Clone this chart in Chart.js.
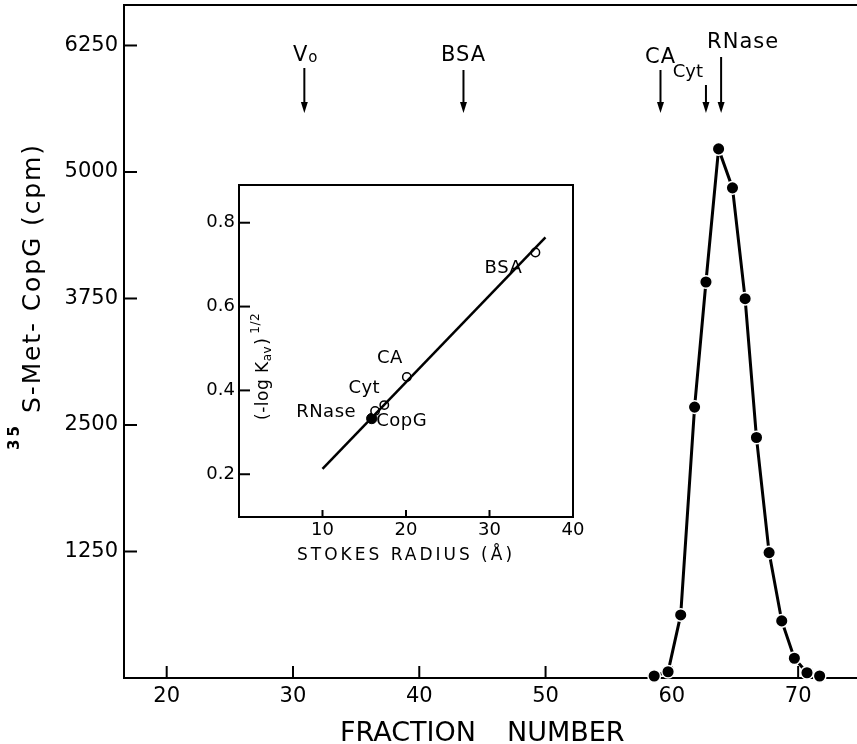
<!DOCTYPE html>
<html>
<head>
<meta charset="utf-8">
<script src="https://cdn.jsdelivr.net/npm/chart.js@4"></script>
<style>
  html, body { margin:0; padding:0; background:#fff; }
  #wrap { position:relative; width:857px; height:744px; }
  #main { position:absolute; left:0; top:0; }
  #inset { position:absolute; left:180px; top:175px; }
</style>
</head>
<body>
<div id="wrap">
  <canvas id="main" width="857" height="744"></canvas>
  <canvas id="inset" width="410" height="395"></canvas>
</div>
<script>
// ---------- main chart data ----------
const fractions = [58.6, 59.7, 60.7, 61.8, 62.7, 63.7, 64.8, 65.8, 66.7, 67.7, 68.7, 69.7, 70.7, 71.7];
const cpm       = [20, 62, 623, 2677, 3913, 5228, 4843, 3748, 2376, 1239, 564, 195, 52, 20];
const xTicks = [20, 30, 40, 50, 60, 70];
const yTicks = [1250, 2500, 3750, 5000, 6250];
const markerNames = ['V', 'BSA', 'CA', 'Cyt', 'RNase'];
const markerFractions = [30.9, 43.5, 59.1, 62.7, 63.9];

// ---------- inset data ----------
const insetNames = ['BSA', 'CA', 'Cyt', 'RNase', 'CopG'];
const stokesRadius = [35.5, 20.1, 17.4, 16.3, 15.9];
const kavRoot = [0.729, 0.432, 0.365, 0.351, 0.333];
const fitRadius = [10, 36.7];
const fitKav = [0.213, 0.765];
const insetXTicks = [10, 20, 30, 40];
const insetYTicks = [0.2, 0.4, 0.6, 0.8];

const FONT = 'DejaVu Sans';

function noPad(s) { s.paddingTop = 0; s.paddingBottom = 0; s.paddingLeft = 0; s.paddingRight = 0; }

function inwardTicks(chart, lenX, lenY, w) {
  const {ctx, chartArea: a, scales: {x, y}} = chart;
  ctx.save();
  ctx.strokeStyle = '#000';
  ctx.lineWidth = w;
  x.ticks.forEach(t => {
    const px = x.getPixelForValue(t.value);
    ctx.beginPath(); ctx.moveTo(px, a.bottom); ctx.lineTo(px, a.bottom - lenX); ctx.stroke();
  });
  y.ticks.forEach(t => {
    const py = y.getPixelForValue(t.value);
    ctx.beginPath(); ctx.moveTo(a.left, py); ctx.lineTo(a.left + lenY, py); ctx.stroke();
  });
  ctx.restore();
}

// ---------- main chart ----------
const markerLayout = {
  'V':     {top: 68, textX: 0,  base: 61, align: 'center', size: 21},
  'BSA':   {top: 70, textX: 0,  base: 61, align: 'center', size: 21},
  'CA':    {top: 70, textX: 0,  base: 63, align: 'center', size: 21},
  'Cyt':   {top: 85, textX: -3, base: 77, align: 'right',  size: 18},
  'RNase': {top: 57, textX: -14, base: 48, align: 'left',  size: 21}
};

const mainPlugin = {
  id: 'mainDecor',
  beforeDatasetsDraw(chart) {
    inwardTicks(chart, 12, 13, 2);
    const {ctx, chartArea: a} = chart;
    ctx.save();
    ctx.strokeStyle = '#000'; ctx.lineWidth = 2;
    ctx.beginPath(); ctx.moveTo(a.left - 1, a.top); ctx.lineTo(a.right, a.top); ctx.stroke();
    ctx.restore();
  },
  afterDraw(chart) {
    const {ctx, scales: {x}} = chart;
    ctx.save();
    ctx.fillStyle = '#000'; ctx.strokeStyle = '#000';
    const arrowTip = 113;
    markerNames.forEach((name, i) => {
      const px = x.getPixelForValue(markerFractions[i]);
      const L = markerLayout[name];
      ctx.lineWidth = 2;
      ctx.beginPath(); ctx.moveTo(px, L.top); ctx.lineTo(px, arrowTip - 8); ctx.stroke();
      ctx.beginPath(); ctx.moveTo(px - 3.5, arrowTip - 11); ctx.lineTo(px + 3.5, arrowTip - 11); ctx.lineTo(px, arrowTip); ctx.closePath(); ctx.fill();
      ctx.font = L.size + 'px "' + FONT + '"';
      ctx.textBaseline = 'alphabetic';
      ctx.letterSpacing = name === 'Cyt' ? '0px' : '1px';
      if (name === 'V') {
        ctx.textAlign = 'right';
        ctx.fillText('V', px + 4, L.base);
        ctx.textAlign = 'left';
        ctx.font = '15px "' + FONT + '"';
        ctx.fillText('o', px + 4, L.base + 1);
      } else {
        ctx.textAlign = L.align;
        ctx.fillText(name, px + L.textX, L.base);
      }
    });
    ctx.letterSpacing = '0px';

    // x-axis title
    ctx.font = '27px "' + FONT + '"';
    ctx.textAlign = 'left'; ctx.textBaseline = 'alphabetic';
    ctx.fillText('FRACTION', 340, 741);
    ctx.fillText('NUMBER', 507, 741);

    // y-axis title (rotated)
    ctx.translate(40, 450);
    ctx.rotate(-Math.PI / 2);
    ctx.font = 'bold 15px "' + FONT + '"';
    ctx.letterSpacing = '3px';
    ctx.fillText('35', 0, -21);
    ctx.font = '25px "' + FONT + '"';
    ctx.letterSpacing = '0px';
    const t = 'S-Met- CopG (cpm)';
    const w0 = ctx.measureText(t).width;
    ctx.letterSpacing = ((270 - w0) / t.length).toFixed(2) + 'px';
    ctx.fillText(t, 37, 0);
    ctx.restore();
  }
};

new Chart(document.getElementById('main'), {
  type: 'scatter',
  data: {
    datasets: [{
      data: fractions.map((f, i) => ({x: f, y: cpm[i]})),
      showLine: true,
      borderColor: '#000',
      borderWidth: 3,
      pointRadius: 6.3,
      pointBackgroundColor: '#000',
      pointBorderColor: '#fff',
      pointBorderWidth: 1.5,
      clip: false,
      tension: 0
    }]
  },
  options: {
    responsive: false,
    animation: false,
    devicePixelRatio: 1,
    layout: {autoPadding: false, padding: {left: 0, top: 5, right: 0, bottom: 0}},
    plugins: {legend: {display: false}, tooltip: {enabled: false}},
    scales: {
      x: {
        type: 'linear', min: 16.62, max: 74.66,
        afterBuildTicks: s => { s.ticks = xTicks.map(v => ({value: v})); },
        afterFit: s => { s.height = 66; noPad(s); },
        grid: {display: false, drawTicks: false},
        border: {display: true, color: '#000', width: 2},
        ticks: {color: '#000', font: {family: FONT, size: 21}, padding: 6, maxRotation: 0, autoSkip: false,
                callback: v => String(v)}
      },
      y: {
        type: 'linear', min: 0, max: 6650,
        afterBuildTicks: s => { s.ticks = yTicks.map(v => ({value: v})); },
        afterFit: s => { s.width = 124; noPad(s); },
        grid: {display: false, drawTicks: false},
        border: {display: true, color: '#000', width: 2},
        ticks: {color: '#000', font: {family: FONT, size: 21}, padding: 6, autoSkip: false,
                callback: v => String(v)}
      }
    }
  },
  plugins: [mainPlugin]
});

// ---------- inset chart ----------
const insetLabelOffset = {
  'BSA':   [-32, 16],
  'CA':    [-17, -19],
  'Cyt':   [-20, -17],
  'RNase': [-49, 1],
  'CopG':  [30, 3]
};

const insetPlugin = {
  id: 'insetDecor',
  beforeDatasetsDraw(chart) {
    inwardTicks(chart, 7, 11, 2);
    const {ctx, chartArea: a} = chart;
    ctx.save();
    ctx.strokeStyle = '#000'; ctx.lineWidth = 2;
    ctx.beginPath(); ctx.moveTo(a.left - 1, a.top); ctx.lineTo(a.right, a.top); ctx.lineTo(a.right, a.bottom + 1); ctx.stroke();
    ctx.restore();
  },
  afterDraw(chart) {
    const {ctx, scales: {x, y}} = chart;
    ctx.save();
    ctx.fillStyle = '#000';
    ctx.font = '18px "' + FONT + '"';
    ctx.textAlign = 'center'; ctx.textBaseline = 'middle';
    ctx.letterSpacing = '0.5px';
    insetNames.forEach((n, i) => {
      const px = x.getPixelForValue(stokesRadius[i]);
      const py = y.getPixelForValue(kavRoot[i]);
      const o = insetLabelOffset[n];
      ctx.fillText(n, px + o[0], py + o[1]);
    });
    // x title
    ctx.font = '17px "' + FONT + '"';
    ctx.letterSpacing = '3px';
    ctx.textBaseline = 'alphabetic';
    ctx.fillText('STOKES RADIUS (Å)', (chart.chartArea.left + chart.chartArea.right) / 2, 385);
    // y title (rotated, inside the box)
    ctx.letterSpacing = '0.5px';
    ctx.translate(88, 245);
    ctx.rotate(-Math.PI / 2);
    ctx.textAlign = 'left';
    ctx.font = '17px "' + FONT + '"';
    let u = 0;
    ctx.fillText('(-log K', u, 0); u += ctx.measureText('(-log K').width;
    ctx.font = '12px "' + FONT + '"';
    ctx.fillText('av', u, 3); u += ctx.measureText('av').width + 1;
    ctx.font = '17px "' + FONT + '"';
    ctx.fillText(')', u, 0); u += ctx.measureText(')').width + 4;
    ctx.font = '12px "' + FONT + '"';
    ctx.fillText('1/2', u, -9);
    ctx.restore();
  }
};

new Chart(document.getElementById('inset'), {
  type: 'scatter',
  data: {
    datasets: [
      {
        data: fitRadius.map((r, i) => ({x: r, y: fitKav[i]})),
        showLine: true, borderColor: '#000', borderWidth: 2.5, pointRadius: 0, clip: false
      },
      {
        data: stokesRadius.slice(0, 4).map((r, i) => ({x: r, y: kavRoot[i]})),
        pointRadius: 4.2, pointBackgroundColor: '#fff', pointBorderColor: '#000', pointBorderWidth: 1.5, clip: false
      },
      {
        data: [{x: stokesRadius[4], y: kavRoot[4]}],
        pointRadius: 5.2, pointBackgroundColor: '#000', pointBorderColor: '#000', pointBorderWidth: 1, clip: false
      }
    ]
  },
  options: {
    responsive: false,
    animation: false,
    devicePixelRatio: 1,
    layout: {autoPadding: false, padding: {left: 0, top: 10, right: 17, bottom: 0}},
    plugins: {legend: {display: false}, tooltip: {enabled: false}},
    scales: {
      x: {
        type: 'linear', min: 0, max: 40,
        afterBuildTicks: s => { s.ticks = insetXTicks.map(v => ({value: v})); },
        afterFit: s => { s.height = 53; noPad(s); },
        grid: {display: false, drawTicks: false},
        border: {display: true, color: '#000', width: 2},
        ticks: {color: '#000', font: {family: FONT, size: 18}, padding: 3, maxRotation: 0, autoSkip: false}
      },
      y: {
        type: 'linear', min: 0.098, max: 0.89,
        afterBuildTicks: s => { s.ticks = insetYTicks.map(v => ({value: v})); },
        afterFit: s => { s.width = 59; noPad(s); },
        grid: {display: false, drawTicks: false},
        border: {display: true, color: '#000', width: 2},
        ticks: {color: '#000', font: {family: FONT, size: 18}, padding: 4, autoSkip: false,
                callback: v => v.toFixed(1)}
      }
    }
  },
  plugins: [insetPlugin]
});
</script>
</body>
</html>
